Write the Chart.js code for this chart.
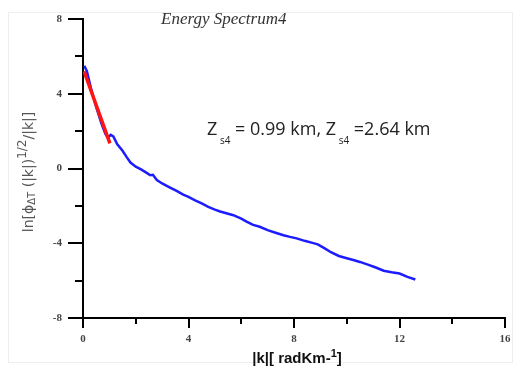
<!DOCTYPE html>
<html>
<head>
<meta charset="utf-8">
<script src="https://cdn.jsdelivr.net/npm/chart.js@4.4.1/dist/chart.umd.min.js"></script>
<style>
  html, body { margin: 0; padding: 0; background: #fff; }
  #wrap { width: 519px; height: 378px; position: relative; }
</style>
</head>
<body>
<div id="wrap"><canvas id="spec"></canvas></div>
<script>
// Energy spectrum 4 — ln power vs |k|, with the fitted slope in red.

const kBlue = [0.05, 0.15, 0.3, 0.5, 0.7, 0.85, 0.95, 1.05, 1.15, 1.3, 1.5, 1.65, 1.8, 2.0, 2.2, 2.4,
  2.55, 2.65, 2.8, 3.0, 3.3, 3.55, 3.8, 4.0, 4.25, 4.5, 4.75, 5.0, 5.2, 5.5, 5.7, 6.0, 6.2, 6.45,
  6.7, 7.0, 7.3, 7.6, 7.85, 8.1, 8.4, 8.7, 8.9, 9.15, 9.4, 9.7, 10.0, 10.25, 10.5, 10.8, 11.1,
  11.4, 11.7, 12.0, 12.3, 12.6];
const lnBlue = [5.5, 5.2, 4.3, 3.3, 2.4, 1.85, 1.65, 1.8, 1.72, 1.3, 0.95, 0.62, 0.32, 0.1, -0.05, -0.22,
  -0.36, -0.34, -0.62, -0.8, -1.02, -1.2, -1.4, -1.52, -1.7, -1.87, -2.05, -2.2, -2.3, -2.42, -2.5,
  -2.68, -2.84, -3.02, -3.12, -3.3, -3.44, -3.57, -3.66, -3.74, -3.87, -3.98, -4.06, -4.26, -4.48,
  -4.68, -4.8, -4.9, -5.0, -5.14, -5.3, -5.47, -5.55, -5.62, -5.8, -5.94];

const kFit = [0.04, 1.02];
const lnFit = [5.2, 1.34];

const xTicks = [0, 4, 8, 12, 16];
const yTicks = [-8, -4, 0, 4, 8];

const toPts = (xs, ys) => xs.map((x, i) => ({ x, y: ys[i] }));

// ticks, axis titles and the depth note, drawn on top of the plot
const decor = {
  id: 'decor',
  beforeDraw(chart) {
    const c = chart.ctx;
    c.save();
    c.fillStyle = '#fff';
    c.fillRect(0, 0, chart.width, chart.height);
    c.strokeStyle = '#eeeeee';
    c.lineWidth = 1;
    c.strokeRect(8.5, 12.5, 504, 350);
    c.restore();
  },
  afterDraw(chart) {
    const c = chart.ctx;
    const { left, bottom } = chart.chartArea;
    const xs = chart.scales.x, ys = chart.scales.y;
    c.save();
    c.strokeStyle = '#000';
    c.lineWidth = 2;
    for (let v = -8; v <= 8; v += 2) {
      const py = Math.round(ys.getPixelForValue(v));
      const len = v % 4 === 0 ? 15 : 8;
      c.beginPath(); c.moveTo(left - len, py); c.lineTo(left, py); c.stroke();
    }
    for (let v = 0; v <= 16; v += 2) {
      const px = Math.round(xs.getPixelForValue(v));
      const len = v % 4 === 0 ? 10 : 6;
      c.beginPath(); c.moveTo(px, bottom); c.lineTo(px, bottom + len); c.stroke();
    }

    // title
    c.fillStyle = '#333';
    c.font = 'italic 17px "Liberation Serif", serif';
    c.textBaseline = 'alphabetic';
    c.textAlign = 'left';
    c.fillText('Energy Spectrum4', 161, 24);

    // depth note with subscripts
    let x = 207;
    const base = 135;
    const big = '18px "Open Sans", sans-serif';
    const sub = '10px "Open Sans", sans-serif';
    c.fillStyle = '#222';
    const parts = [['Z', big, 0], [' s4', sub, 9], [' = 0.99 km, Z', big, 0], [' s4', sub, 9], [' =2.64 km', big, 0]];
    parts.forEach(([t, f, dy]) => {
      c.font = f;
      c.fillText(t, x, base + dy);
      x += c.measureText(t).width;
    });

    // x axis title
    c.fillStyle = '#111';
    c.font = 'bold 15px "Liberation Sans", sans-serif';
    const xt = '|k|[ radKm-';
    const w1 = c.measureText(xt).width;
    c.font = 'bold 11px "Liberation Sans", sans-serif';
    const w2 = c.measureText('1').width;
    c.font = 'bold 15px "Liberation Sans", sans-serif';
    const w3 = c.measureText(']').width;
    let sx = 297 - (w1 + w2 + w3) / 2;
    c.fillText(xt, sx, 363);
    c.font = 'bold 11px "Liberation Sans", sans-serif';
    c.fillText('1', sx + w1, 357);
    c.font = 'bold 15px "Liberation Sans", sans-serif';
    c.fillText(']', sx + w1 + w2, 363);

    // y axis title, rotated
    c.translate(33, 172);
    c.rotate(-Math.PI / 2);
    const yparts = [['ln[ϕ', '14px "DejaVu Sans", sans-serif', 0], ['ΔT', '10px "DejaVu Sans", sans-serif', 2],
      [' (|k|)', '14px "DejaVu Sans", sans-serif', 0], ['1/2', '12px "DejaVu Sans", sans-serif', -7],
      ['/|k|]', '14px "DejaVu Sans", sans-serif', 0]];
    let tw = 0;
    yparts.forEach(([t, f]) => { c.font = f; tw += c.measureText(t).width; });
    let yx = -tw / 2;
    c.fillStyle = '#555';
    yparts.forEach(([t, f, dy]) => {
      c.font = f;
      c.fillText(t, yx, dy);
      yx += c.measureText(t).width;
    });
    c.restore();
  }
};

// invisible grid ticks only push the labels away from the axis
const hiddenGrid = len => ({ display: true, drawOnChartArea: false, drawTicks: true, tickLength: len, color: 'rgba(0,0,0,0)' });
const tickFont = { family: '"Liberation Serif", serif', size: 11, weight: 'bold' };

new Chart(document.getElementById('spec'), {
  type: 'scatter',
  data: {
    datasets: [
      {
        data: toPts(kFit, lnFit),
        showLine: true,
        borderColor: '#ff1414',
        borderWidth: 3.5,
        pointRadius: 0,
        order: 0,
      },
      {
        data: toPts(kBlue, lnBlue),
        showLine: true,
        borderColor: '#1c1cff',
        borderWidth: 2.5,
        pointRadius: 0,
        tension: 0,
        order: 1,
      },
    ],
  },
  options: {
    responsive: true,
    maintainAspectRatio: false,
    animation: false,
    layout: { padding: { top: 19, right: 14, left: 0, bottom: 0 } },
    plugins: { legend: { display: false }, tooltip: { enabled: false } },
    scales: {
      x: {
        type: 'linear',
        min: 0, max: 16,
        afterFit: s => { s.height = 60; },
        afterBuildTicks: s => { s.ticks = xTicks.map(v => ({ value: v })); },
        grid: hiddenGrid(13),
        border: { display: true, color: '#000', width: 2 },
        ticks: { padding: 2, color: '#444', font: tickFont },
      },
      y: {
        type: 'linear',
        min: -8, max: 8,
        afterFit: s => { s.width = 83; },
        afterBuildTicks: s => { s.ticks = yTicks.map(v => ({ value: v })); },
        grid: hiddenGrid(19),
        border: { display: true, color: '#000', width: 2 },
        ticks: { padding: 2, color: '#444', font: tickFont },
      },
    },
  },
  plugins: [decor],
});
</script>
</body>
</html>
